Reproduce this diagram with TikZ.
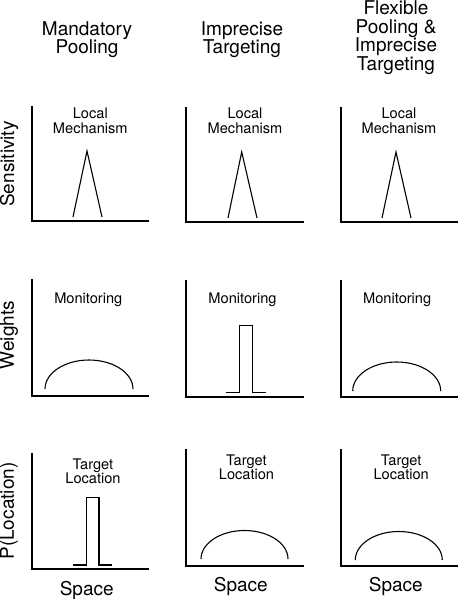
\documentclass[tikz,border=0pt]{standalone}
\usepackage{fontspec}
\setmainfont{TeX Gyre Heros}
\begin{document}
\begin{tikzpicture}[x=1pt,y=1pt,
    axis/.style={black,line width=2pt,line join=miter},
    curve/.style={black,line width=1.1pt},
    coltitle/.style={inner sep=0pt,align=center,font=\fontsize{19}{18.7}\selectfont},
    rowtitle/.style={inner sep=0pt,rotate=90,font=\fontsize{19}{19}\selectfont},
    panellabel/.style={inner sep=0pt,align=center,font=\fontsize{14.6}{14.3}\selectfont}]
                \useasboundingbox (0,0) rectangle (459,-599);
                % column titles
                \node [coltitle] (titleA) at (87,-39.5) {Mandatory\\Pooling};
                \node [coltitle] (titleB) at (242,-39.5) {Imprecise\\Targeting};
                \node [coltitle] (titleC) at (396,-37.5) {Flexible\\Pooling \&\\Imprecise\\Targeting};
                % row titles
                \node [rowtitle] (rowA) at (9,-164) {Sensitivity};
                \node [rowtitle] (rowB) at (9,-335) {Weights};
                \node [rowtitle] (rowC) at (9,-511) {P(Location)};
                % sensitivity row
                \draw [axis] (32,-106) -- (32,-221) -- (149,-221);
                \draw [axis] (186,-107) -- (186,-222) -- (304,-222);
                \draw [axis] (341,-107) -- (341,-222) -- (458,-222);
                \node [panellabel] (mechA) at (90.3,-120.8) {Local\\Mechanism};
                \node [panellabel] (mechB) at (245,-120.8) {Local\\Mechanism};
                \node [panellabel] (mechC) at (399,-120.8) {Local\\Mechanism};
                \draw [curve] (73,-217) -- (87,-151) -- (102,-217);
                \draw [curve] (228,-218) -- (241.7,-152) -- (257,-218);
                \draw [curve] (382,-218) -- (396,-152) -- (411,-218);
                % weights row
                \draw [axis] (32,-279) -- (32,-396) -- (149,-396);
                \draw [axis] (186,-280) -- (186,-397) -- (304,-397);
                \draw [axis] (341,-280) -- (341,-397) -- (458,-397);
                \node [panellabel] (monA) at (88.3,-299.3) {Monitoring};
                \node [panellabel] (monB) at (242.5,-299.3) {Monitoring};
                \node [panellabel] (monC) at (397.2,-299.3) {Monitoring};
                \draw [curve] (45,-389) arc [start angle=180, end angle=0, x radius=44, y radius=29];
                \draw [curve] (226,-392.7) -- (239.3,-392.7) -- (239.3,-325.3) -- (252.3,-325.3) -- (252.3,-392.7) -- (265.7,-392.7);
                \draw [curve] (352.7,-391) arc [start angle=180, end angle=0, x radius=44, y radius=29];
                % location row
                \draw [axis] (32,-453) -- (32,-569) -- (149,-569);
                \draw [axis] (186,-449) -- (186,-566) -- (304,-566);
                \draw [axis] (341,-449) -- (341,-566) -- (458,-566);
                \node [panellabel] (targA) at (93,-471) {Target\\Location};
                \node [panellabel] (targB) at (246.5,-467) {Target\\Location};
                \node [panellabel] (targC) at (401.2,-467) {Target\\Location};
                \draw [curve] (73.3,-565) -- (86.7,-565) -- (86.7,-497.7) -- (99,-497.7) -- (99,-565) -- (112.3,-565);
                \draw [curve] (201,-559) arc [start angle=180, end angle=0, x radius=43.5, y radius=28.5];
                \draw [curve] (355.3,-560) arc [start angle=180, end angle=0, x radius=43.5, y radius=28.5];
                % x axis labels
                \node [coltitle] (spaceA) at (86.7,-590) {Space};
                \node [coltitle] (spaceB) at (240.8,-586.7) {Space};
                \node [coltitle] (spaceC) at (395.8,-586.7) {Space};
            \end{tikzpicture}
\end{document}
